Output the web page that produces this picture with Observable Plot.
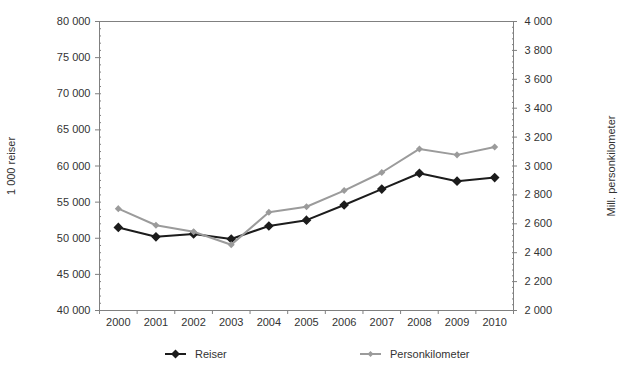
<!DOCTYPE html>
<html>
<head>
<meta charset="utf-8">
<script src="https://cdn.jsdelivr.net/npm/d3@7"></script>
<script src="https://cdn.jsdelivr.net/npm/@observablehq/plot@0.6"></script>
<style>
  body { margin: 0; background: #fff; font-family: "Liberation Sans", Arial, sans-serif; }
  #chart svg { display: block; }
  #legend { position: relative; width: 620px; height: 44px; font-size: 11px; color: #333; }
  .item { position: absolute; top: 13px; display: flex; align-items: center; }
  .item svg { margin-right: 9px; }
</style>
</head>
<body>
<div id="chart"></div>
<div id="legend"></div>
<script>
const years = [2000, 2001, 2002, 2003, 2004, 2005, 2006, 2007, 2008, 2009, 2010];
const reiser = [51500, 50200, 50600, 49900, 51700, 52500, 54600, 56800, 59000, 57900, 58400];
const personkm = [2705, 2590, 2545, 2455, 2680, 2718, 2830, 2955, 3118, 3077, 3132];
const leftTicks = [40000, 45000, 50000, 55000, 60000, 65000, 70000, 75000, 80000];
const rightTicks = [2000, 2200, 2400, 2600, 2800, 3000, 3200, 3400, 3600, 3800, 4000];
const leftMinor = d3.range(40000, 80001, 1000);
const rightMinor = d3.range(2000, 4001, 40);
const boundaries = d3.range(1999.5, 2011, 1);
const ratio = 20; // right axis value * 20 = left axis value

const fmt = d => d3.format(",")(d).replace(/,/g, " ");
const dataR = years.map((y, i) => ({year: y, v: reiser[i]}));
const dataP = years.map((y, i) => ({year: y, v: personkm[i] * ratio}));

const axisColor = "#808080";
const textColor = "#333";

const chart = Plot.plot({
  width: 620,
  height: 335,
  marginLeft: 99,
  marginRight: 107,
  marginTop: 21,
  marginBottom: 25,
  style: {fontFamily: "'Liberation Sans', Arial, sans-serif", fontSize: "11px", background: "#fff"},
  x: {type: "linear", domain: [1999.5, 2010.5]},
  y: {domain: [40000, 80000]},
  marks: [
    Plot.frame({stroke: axisColor}),
    Plot.axisY({anchor: "left", ticks: leftTicks, tickSize: 4, tickPadding: 5, tickFormat: fmt,
      stroke: axisColor, fill: textColor, label: "1 000 reiser", labelAnchor: "center",
      labelOffset: 92, labelArrow: "none"}),
    Plot.axisY({anchor: "left", ticks: leftMinor, tickSize: -2, tickFormat: () => "", stroke: axisColor, label: null}),
    Plot.axisY({anchor: "right", ticks: rightTicks.map(d => d * ratio), tickSize: 3, tickPadding: 8,
      tickFormat: d => fmt(d / ratio), stroke: axisColor, fill: textColor,
      label: "Mill. personkilometer", labelAnchor: "center", labelOffset: 101, labelArrow: "none"}),
    Plot.axisY({anchor: "right", ticks: rightMinor.map(d => d * ratio), tickSize: -2, tickFormat: () => "", stroke: axisColor, label: null}),
    Plot.axisX({ticks: boundaries, tickSize: 4, tickFormat: () => "", stroke: axisColor, label: null}),
    Plot.axisX({ticks: years, tickSize: 0, tickPadding: 8, tickFormat: d => String(d), fill: textColor, label: null}),
    Plot.line(dataR, {x: "year", y: "v", stroke: "#1c1c1c", strokeWidth: 2}),
    Plot.dot(dataR, {x: "year", y: "v", symbol: "diamond2", r: 3.4, fill: "#1c1c1c", stroke: "#1c1c1c"}),
    Plot.line(dataP, {x: "year", y: "v", stroke: "#9b9b9b", strokeWidth: 2}),
    Plot.dot(dataP, {x: "year", y: "v", symbol: "diamond2", r: 2.2, fill: "#9b9b9b", stroke: "#9b9b9b"})
  ]
});
document.getElementById("chart").append(chart);

const series = [
  {name: "Reiser", color: "#1c1c1c", size: 4.5, left: 165},
  {name: "Personkilometer", color: "#9b9b9b", size: 3, left: 360}
];
const legend = document.getElementById("legend");
for (const s of series) {
  const item = document.createElement("div");
  item.className = "item";
  item.style.left = s.left + "px";
  const k = s.size;
  item.innerHTML = `<svg width="21" height="12"><line x1="0" y1="6" x2="21" y2="6" stroke="${s.color}" stroke-width="2"/>` +
    `<path d="M${10.5} ${6 - k}L${10.5 + k} 6L${10.5} ${6 + k}L${10.5 - k} 6Z" fill="${s.color}"/></svg><span>${s.name}</span>`;
  legend.append(item);
}
</script>
</body>
</html>
